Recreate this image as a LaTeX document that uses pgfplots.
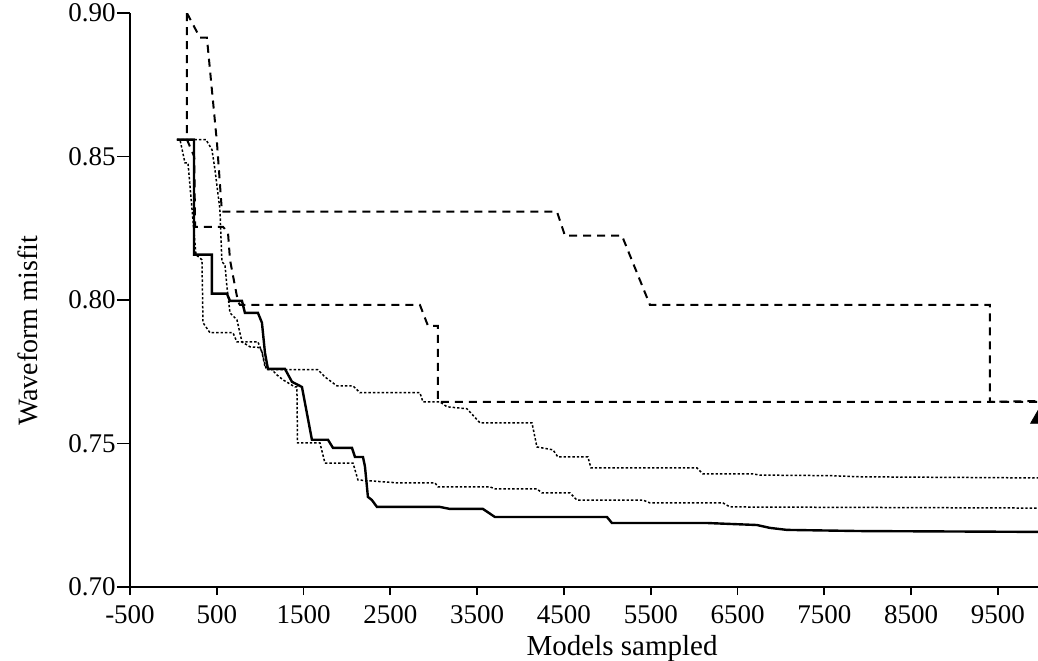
\documentclass[border=0pt]{standalone}
\usepackage{fontspec}
\setmainfont{Liberation Serif}
\usepackage{pgfplots}
\pgfplotsset{compat=1.18}

% best misfit found so far, one run per series
\pgfplotstableread{
x y
41 0.8559
237 0.8559
237 0.8158
444 0.8158
444 0.8022
617 0.8022
652 0.7997
790 0.7997
824 0.7955
974 0.7955
1020 0.7921
1055 0.7816
1089 0.7760
1285 0.7760
1366 0.7715
1481 0.7697
1596 0.7513
1781 0.7513
1838 0.7485
2057 0.7485
2092 0.7453
2184 0.7453
2207 0.7420
2241 0.7314
2287 0.7303
2345 0.7279
3071 0.7279
3186 0.7272
3566 0.7272
3704 0.7244
4995 0.7244
5052 0.7223
6147 0.7223
6723 0.7216
6872 0.7206
7068 0.7199
7909 0.7195
9961 0.7192
}\runA

\pgfplotstableread{
x y
156 0.9000
306 0.8914
386 0.8914
502 0.8548
559 0.8308
4419 0.8308
4511 0.8224
5168 0.8224
5490 0.7983
9407 0.7983
9407 0.7645
9961 0.7648
}\runB

\pgfplotstableread{
x y
156 0.9000
156 0.8559
240 0.8500
250 0.8255
571 0.8255
629 0.8235
652 0.8140
744 0.7994
767 0.7983
2840 0.7983
2933 0.7910
3048 0.7910
3048 0.7645
9961 0.7645
}\runC

\pgfplotstableread{
x y
41 0.8559
375 0.8559
444 0.8524
479 0.8454
536 0.8315
559 0.8133
594 0.8123
617 0.8046
652 0.7955
732 0.7931
790 0.7854
882 0.7837
997 0.7834
1020 0.7819
1066 0.7763
1078 0.7757
1665 0.7757
1746 0.7732
1838 0.7711
1884 0.7701
2069 0.7701
2149 0.7677
2840 0.7677
2875 0.7645
3071 0.7645
3151 0.7628
3382 0.7621
3532 0.7572
4131 0.7572
4188 0.7488
4373 0.7478
4430 0.7453
4776 0.7453
4810 0.7415
6031 0.7415
6101 0.7394
6677 0.7394
6757 0.7390
7564 0.7388
7909 0.7384
9961 0.7380
}\runD

\pgfplotstableread{
x y
41 0.8559
76 0.8559
133 0.8478
168 0.8478
260 0.8158
329 0.8140
341 0.7921
421 0.7886
686 0.7886
732 0.7854
974 0.7854
1020 0.7819
1055 0.7768
1135 0.7757
1193 0.7739
1262 0.7722
1400 0.7697
1423 0.7697
1430 0.7502
1688 0.7502
1746 0.7432
2069 0.7432
2126 0.7373
2575 0.7363
3013 0.7363
3048 0.7349
3647 0.7349
3704 0.7342
4188 0.7342
4246 0.7328
4568 0.7328
4649 0.7303
5409 0.7303
5490 0.7293
6331 0.7293
6412 0.7279
9961 0.7275
}\runE

\begin{document}
\begin{tikzpicture}
\begin{axis}[
  at={(0,0)}, anchor=south west,
  scale only axis, width=454pt, height=287pt,
  xmin=-500, xmax=9961, ymin=0.70, ymax=0.90,
  axis x line*=bottom, axis y line*=left,
  axis line style={-, line width=1pt},
  xtick={-500,500,...,9500},
  ytick={0.70,0.75,0.80,0.85,0.90},
  tick align=outside, major tick length=6.5pt,
  x tick style={/pgfplots/major tick length=4pt},
  tick style={black, line width=0.9pt},
  /pgf/number format/assume math mode=true,
  every tick label/.append style={font=\fontsize{13.5}{15}\selectfont},
  x tick label style={/pgf/number format/1000 sep={}, inner sep=1pt, yshift=-1.5pt},
  y tick label style={inner sep=0.5pt, /pgf/number format/fixed,
                      /pgf/number format/fixed zerofill, /pgf/number format/precision=2},
  xlabel={Models sampled},
  ylabel={Waveform misfit},
  xlabel style={at={(axis description cs:0.542,-0.1195)}, anchor=base, inner sep=0pt,
                font=\fontsize{14.5}{16}\selectfont},
  ylabel style={at={(axis description cs:-0.102,0.446)}, anchor=base, inner sep=0pt,
                rotate=0, font=\fontsize{14}{16}\selectfont},
  clip=true,
]
\addplot[black, line width=1.2pt] table[x=x, y=y] {\runA};
\addplot[black, line width=1pt, dash pattern=on 4pt off 3pt] table[x=x, y=y] {\runB};
\addplot[black, line width=1pt, dash pattern=on 4pt off 3pt] table[x=x, y=y] {\runC};
\addplot[black, line width=0.75pt, dash pattern=on 1.2pt off 1pt] table[x=x, y=y] {\runD};
\addplot[black, line width=0.75pt, dash pattern=on 1.2pt off 1pt] table[x=x, y=y] {\runE};
\addplot[only marks, mark=triangle*, mark size=4.2pt, black, clip marker paths=true]
  coordinates {(9994, 0.7650) (9960, 0.7585)};
\end{axis}
\pgfresetboundingbox
\path[use as bounding box] (-65pt,-36.5pt) rectangle (454pt,293.5pt);
\end{tikzpicture}
\end{document}
